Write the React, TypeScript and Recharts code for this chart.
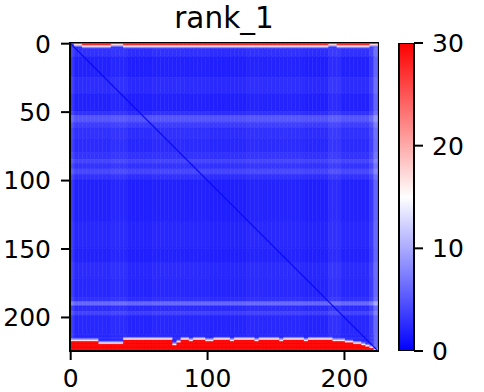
import React from 'react';
import { BarChart, Bar, XAxis, YAxis, Cell, ReferenceLine, ReferenceArea } from 'recharts';

const title = 'rank_1';
const xTicks = [0, 100, 200];
const yTicks = [0, 50, 100, 150, 200];
const cbTicks = [0, 10, 20, 30];
const vmin = 0;
const vmax = 30;
const topRed = 28;
const bottomRed = 30;
const edgeWhite = 16;
const edgeLight = 8;

// column groups (3 columns each), centre index
const groupCenters = [
  1, 4, 7, 10, 13, 16, 19, 22, 25, 28, 31, 34, 37, 40, 43, 46, 49, 52, 55, 58,
  61, 64, 67, 70, 73, 76, 79, 82, 85, 88, 91, 94, 97, 100, 103, 106, 109, 112, 115, 118,
  121, 124, 127, 130, 133, 136, 139, 142, 145, 148, 151, 154, 157, 160, 163, 166, 169, 172, 175, 178,
  181, 184, 187, 190, 193, 196, 199, 202, 205, 208, 211, 214, 217, 220, 223,
];

// per column-group lightness offset
const colShade = [
  1.5, 0.2, 0.2, 0.2, 0.2, 0.2, 0.2, 0.2, 0.2, 0.2,
  0.5, 0.5, 0.5, 0.5, 0, 0, 0, 0, 0, 0,
  0.2, 0.2, 0.2, 0.2, 0.2, 0.2, 0.2, 0.2, 0.2, 0.2,
  0.2, 0.2, 0.2, 0.2, 0, 0, 0, 0, 0, 0,
  0, 0, 0, 0.3, 0.3, 0.3, 0.3, 0.3, 0.3, 0.3,
  0.3, 0.3, 0.3, 0.3, 0.3, 0.3, 0.3, 0, 0, 0,
  0, 0, 0, 0.8, 0.8, 0.8, 0.2, 0.2, 0.2, 0.2,
  0.2, 0.2, 0.2, 1.5, 4,
];

// rows of red at the top, per column group
const topDepth = [
  0, 1, 1, 2, 2, 2, 2, 2, 2, 2,
  1, 1, 1, 2, 2, 2, 2, 2, 2, 2,
  2, 2, 2, 2, 2, 2, 2, 2, 2, 2,
  2, 2, 2, 2, 2, 2, 2, 2, 2, 2,
  2, 2, 2, 2, 2, 2, 2, 2, 2, 2,
  2, 2, 2, 2, 2, 2, 2, 2, 2, 2,
  2, 2, 2, 1, 1, 2, 2, 2, 2, 2,
  2, 2, 2, 1, 1,
];

// first red row at the bottom, per column group
const bottomStart = [
  218, 218, 218, 218, 218, 218, 218, 220, 220, 220,
  220, 220, 220, 217, 217, 217, 217, 217, 217, 217,
  217, 217, 217, 217, 217, 221, 219, 217, 217, 218,
  217, 217, 217, 218, 218, 217, 217, 217, 217, 218,
  217, 217, 217, 217, 217, 218, 217, 217, 217, 217,
  217, 218, 217, 217, 217, 217, 217, 218, 217, 217,
  217, 217, 217, 217, 218, 218, 218, 219, 219, 220,
  220, 221, 222, 223, 225,
];

// horizontal bands of rows: start row and base value
const bandStart = [
  0, 1, 2, 3, 4, 10, 25, 37, 50, 53,
  58, 62, 70, 80, 85, 88, 92, 96, 100, 130,
  150, 160, 172, 186, 189, 192, 196, 199, 213, 214,
  215, 216, 217, 218, 219, 220, 221, 222, 223, 224,
];
const bandLevel = [
  2, 2, 2, 2, 2.6, 1.8, 2.4, 1.8, 2.6, 4.8,
  3.4, 2.6, 2.3, 2.8, 3.8, 2.8, 4.0, 2.6, 1.8, 2.1,
  1.8, 2.3, 2.1, 2.6, 5.8, 2.4, 3.6, 2.1, 2.1, 2.1,
  2.1, 2.1, 2.1, 2.1, 2.1, 2.1, 2.1, 2.1, 2.1, 2.1,
];
const nRows = 225;
const diagonalValue = 0.5;

function bwr(v: number): string {
  const t = Math.max(0, Math.min(1, (v - vmin) / (vmax - vmin)));
  if (t < 0.5) {
    const k = Math.round(255 * t * 2);
    return `rgb(${k},${k},255)`;
  }
  const k = Math.round(255 * (1 - t) * 2);
  return `rgb(255,${k},${k})`;
}

function cellValue(g: number, r: number, base: number): number {
  const d = topDepth[g];
  const b = bottomStart[g];
  if (r < d) return topRed;
  if (d > 0 && r === d) return edgeWhite;
  if (d > 0 && r === d + 1) return edgeLight;
  if (r >= b) return bottomRed;
  if (r === b - 1) return edgeWhite;
  if (r === b - 2) return edgeLight;
  return base + colShade[g];
}

const bandHeight = bandStart.map((s, i) => (i + 1 < bandStart.length ? bandStart[i + 1] : nRows) - s);

const heatData = groupCenters.map((c) => {
  const o: Record<string, number> = { c };
  bandHeight.forEach((h, i) => {
    o['b' + i] = h;
  });
  return o;
});

const cbData = [{ k: 'cb', v: vmax }];

const FONT = 'DejaVu Sans';
const tickStyle = { fill: '#000', fontSize: 25, fontFamily: FONT };
const lineStyle = { stroke: '#000', strokeWidth: 2 };

export default function App() {
  return (
    <div style={{ position: 'fixed', left: 0, top: 0, width: 484, height: 392, background: '#fff', fontFamily: FONT }}>
      <svg width={484} height={42} style={{ position: 'absolute', left: 0, top: 0 }}>
        <text x={224} y={27.5} textAnchor="middle" fontSize={29.5} fontFamily={FONT} fill="#000">
          {title}
        </text>
      </svg>
      <div style={{ position: 'absolute', left: 0, top: 0 }}>
        <BarChart
          width={484}
          height={392}
          data={heatData}
          margin={{ top: 43, right: 106, bottom: 0, left: 0 }}
          barCategoryGap={0}
          barGap={0}
        >
          <XAxis
            dataKey="c"
            type="number"
            domain={[-0.5, 224.5]}
            allowDataOverflow
            ticks={xTicks}
            interval={0}
            height={41}
            tickSize={9}
            tickMargin={9}
            tickLine={lineStyle}
            axisLine={lineStyle}
            tick={tickStyle}
          />
          <YAxis
            type="number"
            domain={[0, nRows]}
            reversed
            allowDataOverflow
            ticks={yTicks.map((t) => t + 0.5)}
            tickFormatter={(v: number) => String(v - 0.5)}
            interval={0}
            width={70}
            tickSize={9}
            tickMargin={10}
            tickLine={lineStyle}
            axisLine={lineStyle}
            tick={tickStyle}
          />
          {bandStart.map((s, i) => (
            <Bar key={'b' + i} dataKey={'b' + i} stackId="h" isAnimationActive={false} activeBar={false}>
              {groupCenters.map((c, g) => {
                const col = bwr(cellValue(g, s, bandLevel[i]));
                return <Cell key={c} fill={col} stroke={col} strokeWidth={0.6} />;
              })}
            </Bar>
          ))}
          <ReferenceLine
            segment={[
              { x: -0.5, y: 0 },
              { x: 224.5, y: nRows },
            ]}
            stroke={bwr(diagonalValue)}
            strokeWidth={1.1}
            ifOverflow="visible"
          />
          <ReferenceArea
            x1={-0.5}
            x2={224.5}
            y1={0}
            y2={nRows}
            fill="none"
            stroke="#000"
            strokeWidth={2}
            ifOverflow="visible"
          />
        </BarChart>
      </div>
      <div style={{ position: 'absolute', left: 380, top: 0 }}>
        <BarChart
          width={104}
          height={392}
          data={cbData}
          margin={{ top: 43, right: 0, bottom: 41, left: 19 }}
          barCategoryGap={0}
        >
          <defs>
            <linearGradient id="cbGrad" x1="0" y1="0" x2="0" y2="1">
              <stop offset="0%" stopColor={bwr(30)} />
              <stop offset="50%" stopColor={bwr(15)} />
              <stop offset="100%" stopColor={bwr(0)} />
            </linearGradient>
          </defs>
          <XAxis dataKey="k" hide />
          <YAxis
            orientation="right"
            type="number"
            domain={[vmin, vmax]}
            allowDataOverflow
            ticks={cbTicks}
            interval={0}
            width={70}
            tickSize={9}
            tickMargin={9}
            tickLine={lineStyle}
            axisLine={false}
            tick={{ ...tickStyle, textAnchor: 'start' }}
          />
          <Bar dataKey="v" fill="url(#cbGrad)" stroke="#000" strokeWidth={2} isAnimationActive={false} activeBar={false} />
        </BarChart>
      </div>
    </div>
  );
}
